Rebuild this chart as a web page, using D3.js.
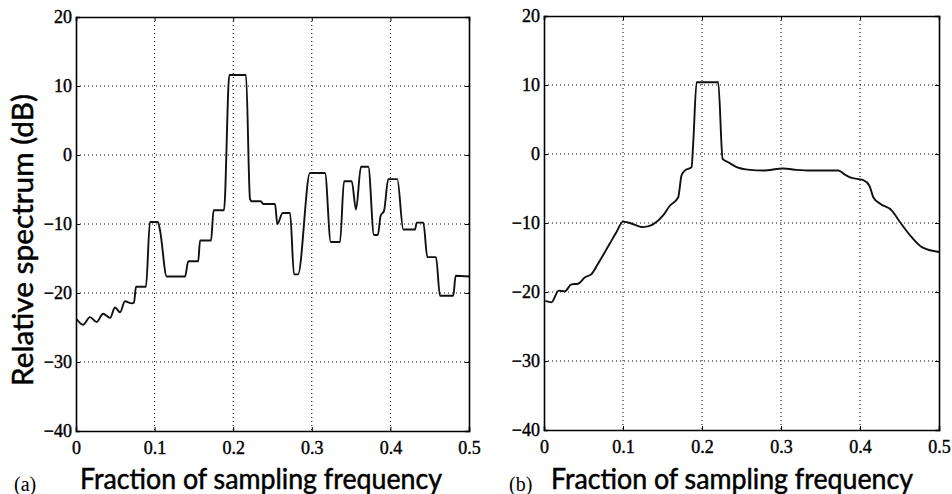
<!DOCTYPE html>
<html><head><meta charset="utf-8">
<script src="https://cdn.jsdelivr.net/npm/d3@7"></script>
<style>body{margin:0;background:#fff}svg{display:block}</style>
</head><body><svg id="c" width="952" height="494"></svg>
<script>
const xTicks = [0, 0.1, 0.2, 0.3, 0.4, 0.5];
const yTicks = [-40, -30, -20, -10, 0, 10, 20];
const xTitle = "Fraction of sampling frequency";
const yTitle = "Relative spectrum (dB)";

// panel (a)
const freqA = [0.001,0.0089,0.0178,0.0263,0.0344,0.0433,0.0496,0.056,0.0623,0.0709,0.0738,0.0763,0.089,0.0941,0.1043,0.107,0.1154,0.1387,0.1429,0.1555,0.1578,0.1718,0.1751,0.1883,0.1951,0.2163,0.2214,0.2235,0.2349,0.2383,0.2532,0.2561,0.2630,0.2723,0.2774,0.2825,0.2977,0.3168,0.3241,0.3359,0.341,0.3508,0.3562,0.3626,0.3719,0.3791,0.384,0.3876,0.3919,0.3973,0.4088,0.4164,0.4313,0.4335,0.4419,0.4470,0.4580,0.4631,0.4800,0.4830,0.5];
const specA = [-23.8,-24.6,-23.5,-24.2,-23.0,-23.6,-22.1,-22.8,-21.2,-21.5,-21.4,-19.1,-19.1,-9.7,-9.7,-11.0,-17.6,-17.6,-15.4,-15.4,-12.4,-12.4,-8.0,-8.0,11.6,11.6,-6.4,-6.7,-6.7,-7.1,-7.1,-10.0,-8.4,-8.4,-17.3,-17.3,-2.6,-2.6,-12.6,-12.6,-3.8,-3.8,-7.9,-1.7,-1.7,-11.6,-11.6,-8.8,-8.1,-3.5,-3.5,-10.8,-10.8,-9.8,-9.8,-14.8,-14.8,-20.4,-20.4,-17.5,-17.6];

// panel (b)
const freqB = [0.0018,0.0094,0.0186,0.0262,0.0347,0.0431,0.0516,0.0601,0.0684,0.0791,0.0867,0.0918,0.1001,0.1086,0.1255,0.1381,0.1508,0.1593,0.1698,0.1741,0.1783,0.1868,0.1888,0.1932,0.2205,0.2261,0.2332,0.2439,0.2607,0.2776,0.3029,0.3199,0.3368,0.3726,0.3811,0.3875,0.4043,0.4119,0.417,0.4255,0.4403,0.4508,0.4657,0.4783,0.5];
const specB = [-21.3,-21.5,-19.8,-19.9,-18.9,-18.8,-17.9,-17.4,-15.9,-13.8,-12.3,-11.3,-9.8,-10.0,-10.6,-10.2,-8.9,-7.5,-6.3,-3.1,-2.4,-1.9,1.4,10.4,10.4,-0.7,-1.2,-1.9,-2.3,-2.4,-2.1,-2.3,-2.4,-2.4,-3.0,-3.4,-3.8,-4.6,-6.3,-7.2,-8.2,-9.9,-12.1,-13.5,-14.2];

const panels = [
  {f: freqA, s: specA, x0: 76, x1: 469, y0: 17, y1: 431, tag: "(a)", tagX: 14, titleX: 261, ylab: true},
  {f: freqB, s: specB, x0: 544, x1: 939, y0: 16, y1: 430, tag: "(b)", tagX: 509, titleX: 732, ylab: false}
];

const svg = d3.select("#c");
const fmtY = d => d < 0 ? "\u2212" + Math.abs(d) : String(d);
const fmtX = d => d === 0 ? "0" : String(d);

panels.forEach(p => {
  const x = d3.scaleLinear().domain([0, 0.5]).range([p.x0, p.x1]);
  const y = d3.scaleLinear().domain([-40, 20]).range([p.y1, p.y0]);
  const g = svg.append("g");

  // grid
  g.append("g").selectAll("line").data(xTicks.slice(1, -1)).join("line")
    .attr("x1", d => x(d)).attr("x2", d => x(d)).attr("y1", p.y0).attr("y2", p.y1)
    .attr("stroke", "#000").attr("stroke-width", 1).attr("stroke-dasharray", "1,3");
  g.append("g").selectAll("line").data(yTicks.slice(1, -1)).join("line")
    .attr("y1", d => y(d)).attr("y2", d => y(d)).attr("x1", p.x0).attr("x2", p.x1)
    .attr("stroke", "#000").attr("stroke-width", 1).attr("stroke-dasharray", "1,3");

  // axes (inward ticks on all sides)
  const ax = [
    g.append("g").attr("transform", `translate(0,${p.y1})`).call(d3.axisBottom(x).tickValues(xTicks).tickSize(-4).tickPadding(10).tickFormat(fmtX)),
    g.append("g").attr("transform", `translate(0,${p.y0})`).call(d3.axisTop(x).tickValues(xTicks).tickSize(-4).tickFormat("")),
    g.append("g").attr("transform", `translate(${p.x0},0)`).call(d3.axisLeft(y).tickValues(yTicks).tickSize(-4).tickPadding(4).tickFormat(fmtY)),
    g.append("g").attr("transform", `translate(${p.x1},0)`).call(d3.axisRight(y).tickValues(yTicks).tickSize(-4).tickFormat(""))
  ];
  ax.forEach(a => {
    a.select(".domain").attr("stroke", "#000").attr("stroke-width", 1.6);
    a.selectAll(".tick line").attr("stroke", "#000").attr("stroke-width", 1);
    a.selectAll("text").attr("font-family", "'Liberation Serif', serif").attr("font-size", 18)
      .attr("fill", "#000").attr("stroke", "#000").attr("stroke-width", 0.4);
  });

  // curve
  const line = d3.line().x((d, i) => x(p.f[i])).y(d => y(d)).curve(d3.curveMonotoneX);
  g.append("path").datum(p.s).attr("d", line)
    .attr("fill", "none").attr("stroke", "#111").attr("stroke-width", 1.9).attr("stroke-linejoin", "round");

  // titles
  g.append("text").attr("x", p.titleX).attr("y", 489).attr("text-anchor", "middle")
    .attr("font-family", "Lato, sans-serif").attr("font-size", 28).attr("fill", "#000")
    .attr("stroke", "#000").attr("stroke-width", 0.5)
    .attr("textLength", 362).attr("lengthAdjust", "spacingAndGlyphs").text(xTitle);
  g.append("text").attr("x", p.tagX).attr("y", 491)
    .attr("font-family", "'Liberation Serif', serif").attr("font-size", 20).attr("fill", "#000").text(p.tag);
  if (p.ylab) {
    g.append("text").attr("transform", "translate(33,240) rotate(-90)").attr("text-anchor", "middle")
      .attr("font-family", "Lato, sans-serif").attr("font-size", 28).attr("fill", "#000")
      .attr("stroke", "#000").attr("stroke-width", 0.5)
      .attr("textLength", 292).attr("lengthAdjust", "spacingAndGlyphs").text(yTitle);
  }
});
</script></body></html>
